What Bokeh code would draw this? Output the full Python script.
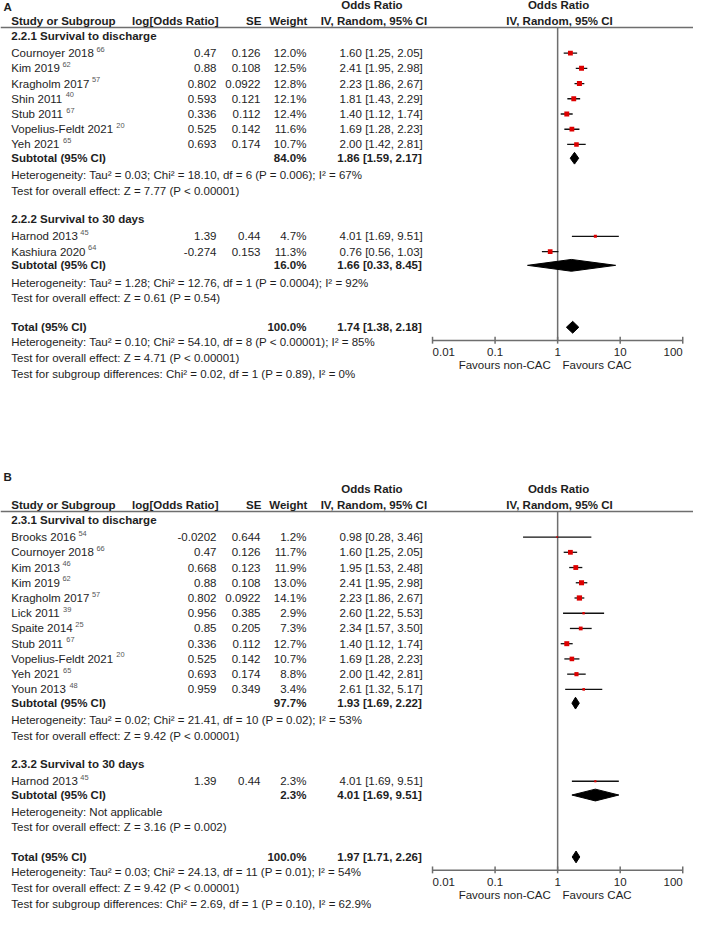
import numpy as np
from bokeh.plotting import figure
from bokeh.models import ColumnDataSource, Range1d
from bokeh.core.properties import value
from bokeh.embed import file_html
from bokeh.resources import INLINE

# ======================= DATA =======================
# ---- Panel A ----
a1_title = "2.2.1 Survival to discharge"
a1_study = ["Cournoyer 2018", "Kim 2019", "Kragholm 2017", "Shin 2011", "Stub 2011", "Vopelius-Feldt 2021", "Yeh 2021"]
a1_ref = ["66", "62", "57", "40", "67", "20", "65"]
a1_logor = [0.47, 0.88, 0.802, 0.593, 0.336, 0.525, 0.693]
a1_se = [0.126, 0.108, 0.0922, 0.121, 0.112, 0.142, 0.174]
a1_weight = [12.0, 12.5, 12.8, 12.1, 12.4, 11.6, 10.7]
a1_or = [1.60, 2.41, 2.23, 1.81, 1.40, 1.69, 2.00]
a1_lo = [1.25, 1.95, 1.86, 1.43, 1.12, 1.28, 1.42]
a1_hi = [2.05, 2.98, 2.67, 2.29, 1.74, 2.23, 2.81]
a1_sub = (84.0, 1.86, 1.59, 2.17)
a1_het = "Heterogeneity: Tau² = 0.03; Chi² = 18.10, df = 6 (P = 0.006); I² = 67%"
a1_test = "Test for overall effect: Z = 7.77 (P < 0.00001)"

a2_title = "2.2.2 Survival to 30 days"
a2_study = ["Harnod 2013", "Kashiura 2020"]
a2_ref = ["45", "64"]
a2_logor = [1.39, -0.274]
a2_se = [0.44, 0.153]
a2_weight = [4.7, 11.3]
a2_or = [4.01, 0.76]
a2_lo = [1.69, 0.56]
a2_hi = [9.51, 1.03]
a2_sub = (16.0, 1.66, 0.33, 8.45)
a2_het = "Heterogeneity: Tau² = 1.28; Chi² = 12.76, df = 1 (P = 0.0004); I² = 92%"
a2_test = "Test for overall effect: Z = 0.61 (P = 0.54)"

a_total = (100.0, 1.74, 1.38, 2.18)
a_total_lines = ["Heterogeneity: Tau² = 0.10; Chi² = 54.10, df = 8 (P < 0.00001); I² = 85%",
                 "Test for overall effect: Z = 4.71 (P < 0.00001)",
                 "Test for subgroup differences: Chi² = 0.02, df = 1 (P = 0.89), I² = 0%"]

# ---- Panel B ----
b1_title = "2.3.1 Survival to discharge"
b1_study = ["Brooks 2016", "Cournoyer 2018", "Kim 2013", "Kim 2019", "Kragholm 2017", "Lick 2011",
            "Spaite 2014", "Stub 2011", "Vopelius-Feldt 2021", "Yeh 2021", "Youn 2013"]
b1_ref = ["54", "66", "46", "62", "57", "39", "25", "67", "20", "65", "48"]
b1_logor = [-0.0202, 0.47, 0.668, 0.88, 0.802, 0.956, 0.85, 0.336, 0.525, 0.693, 0.959]
b1_se = [0.644, 0.126, 0.123, 0.108, 0.0922, 0.385, 0.205, 0.112, 0.142, 0.174, 0.349]
b1_weight = [1.2, 11.7, 11.9, 13.0, 14.1, 2.9, 7.3, 12.7, 10.7, 8.8, 3.4]
b1_or = [0.98, 1.60, 1.95, 2.41, 2.23, 2.60, 2.34, 1.40, 1.69, 2.00, 2.61]
b1_lo = [0.28, 1.25, 1.53, 1.95, 1.86, 1.22, 1.57, 1.12, 1.28, 1.42, 1.32]
b1_hi = [3.46, 2.05, 2.48, 2.98, 2.67, 5.53, 3.50, 1.74, 2.23, 2.81, 5.17]
b1_sub = (97.7, 1.93, 1.69, 2.22)
b1_het = "Heterogeneity: Tau² = 0.02; Chi² = 21.41, df = 10 (P = 0.02); I² = 53%"
b1_test = "Test for overall effect: Z = 9.42 (P < 0.00001)"

b2_title = "2.3.2 Survival to 30 days"
b2_study = ["Harnod 2013"]
b2_ref = ["45"]
b2_logor = [1.39]
b2_se = [0.44]
b2_weight = [2.3]
b2_or = [4.01]
b2_lo = [1.69]
b2_hi = [9.51]
b2_sub = (2.3, 4.01, 1.69, 9.51)
b2_het = "Heterogeneity: Not applicable"
b2_test = "Test for overall effect: Z = 3.16 (P = 0.002)"

b_total = (100.0, 1.97, 1.71, 2.26)
b_total_lines = ["Heterogeneity: Tau² = 0.03; Chi² = 24.13, df = 11 (P = 0.01); I² = 54%",
                 "Test for overall effect: Z = 9.42 (P < 0.00001)",
                 "Test for subgroup differences: Chi² = 2.69, df = 1 (P = 0.10), I² = 62.9%"]

axis_ticks = [0.01, 0.1, 1, 10, 100]
axis_tick_labels = ["0.01", "0.1", "1", "10", "100"]
favours_left = "Favours non-CAC"
favours_right = "Favours CAC"

# ======================= LAYOUT =======================
REF_W, REF_H = 709, 926
W, H = 693, 910
SX = W / REF_W
PX_DEC = 64.0       # reference pixels per decade
PX_ONE = 570.0      # reference pixel of OR = 1


def X(px):
    return 10 ** ((px - PX_ONE) / PX_DEC)


FS = 11.8           # reference font px
FS_SUP = 7.6
TXT = "#1e1e1e"
FONT = "Liberation Sans"

AW = {' ': 278, '-': 333, '0': 556, '1': 556, '2': 556, '3': 556, '4': 556, '5': 556, '6': 556, '7': 556,
      '8': 556, '9': 556, 'A': 667, 'B': 667, 'C': 722, 'D': 722, 'E': 667, 'F': 611, 'G': 778, 'H': 722,
      'I': 278, 'J': 500, 'K': 667, 'L': 556, 'M': 833, 'N': 722, 'O': 778, 'P': 667, 'R': 722, 'S': 667,
      'T': 611, 'U': 722, 'V': 667, 'W': 944, 'Y': 667, 'a': 556, 'b': 556, 'c': 500, 'd': 556, 'e': 556,
      'f': 278, 'g': 556, 'h': 556, 'i': 222, 'j': 222, 'k': 500, 'l': 222, 'm': 833, 'n': 556, 'o': 556,
      'p': 556, 'q': 556, 'r': 333, 's': 500, 't': 278, 'u': 556, 'v': 500, 'w': 722, 'x': 500, 'y': 500,
      'z': 500}


def text_w(s):
    return sum(AW.get(c, 556) for c in s) / 1000.0 * FS


TEXTS = {}


def add(kind, align, px, y, s):
    d = TEXTS.setdefault((kind, align), dict(x=[], y=[], t=[]))
    d["x"].append(X(px))
    d["y"].append(y)
    d["t"].append(s)


CI_SEG = dict(x0=[], x1=[], y=[])
SQ = dict(x=[], y=[], size=[])
DIA = dict(xs=[], ys=[])
GRAY_SEG = dict(x0=[], x1=[], y0=[], y1=[])


def gseg(x0, y0, x1, y1):
    GRAY_SEG["x0"].append(x0); GRAY_SEG["x1"].append(x1)
    GRAY_SEG["y0"].append(y0); GRAY_SEG["y1"].append(y1)


def diamond(y, est, lo, hi, half=6.0):
    DIA["xs"].append([lo, est, hi, est])
    DIA["ys"].append([y, y - half, y, y + half])


def ci_text(o, lo, hi):
    return f"{o:.2f} [{lo:.2f}, {hi:.2f}]"


PITCH = 15.5


def panel(L, label, label_y, groups, total, total_lines):
    add("bold", "left", 3, label_y, label)
    add("bold", "left", 11, L - 6.5, "Study or Subgroup")
    add("bold", "right", 223, L - 6.5, "log[Odds Ratio]")
    add("bold", "right", 267, L - 6.5, "SE")
    add("bold", "right", 314, L - 6.5, "Weight")
    add("bold", "center", 380, L - 22.5, "Odds Ratio")
    add("bold", "center", 382, L - 6.5, "IV, Random, 95% CI")
    add("bold", "center", 571, L - 22.5, "Odds Ratio")
    add("bold", "center", 572, L - 6.5, "IV, Random, 95% CI")
    gseg(X(0), L, X(709), L)

    y = L + 8.5
    for g in groups:
        title, study, ref, logor, se, wt, o, lo, hi, sub, het, test = g
        add("bold", "left", 11, y, title)
        y += 17.5
        for i in range(len(study)):
            add("normal", "left", 11, y, study[i])
            add("sup", "left", 11 + text_w(study[i]) + 2.5, y - 4, ref[i])
            add("normal", "right", 221, y, str(logor[i]))
            add("normal", "right", 266, y, str(se[i]))
            add("normal", "right", 313, y, f"{wt[i]:.1f}%")
            add("normal", "right", 432, y, ci_text(o[i], lo[i], hi[i]))
            CI_SEG["x0"].append(lo[i]); CI_SEG["x1"].append(hi[i]); CI_SEG["y"].append(y)
            SQ["x"].append(o[i]); SQ["y"].append(y); SQ["size"].append(1.4 * np.sqrt(wt[i]))
            y += PITCH
        y += 14 - PITCH
        add("bold", "left", 11, y, "Subtotal (95% CI)")
        add("bold", "right", 313, y, f"{sub[0]:.1f}%")
        add("bold", "right", 431, y, ci_text(*sub[1:]))
        diamond(y, sub[1], sub[2], sub[3])
        y += 17.5
        add("normal", "left", 11, y, het)
        y += 15.5
        add("normal", "left", 11, y, test)
        y += 29
    y += 1
    add("bold", "left", 11, y, "Total (95% CI)")
    add("bold", "right", 313, y, f"{total[0]:.1f}%")
    add("bold", "right", 431, y, ci_text(*total[1:]))
    diamond(y, total[1], total[2], total[3])
    ax_y = y + 13.5
    yy = y
    for k, s in enumerate(total_lines):
        yy += 15.5 if k == 0 else (16 if k == 1 else 16.5)
        add("normal", "left", 11, yy, s)

    # vertical line of no effect
    gseg(1.0, L, 1.0, ax_y)
    # axis line and ticks
    gseg(axis_ticks[0], ax_y, axis_ticks[-1], ax_y)
    for k, t in enumerate(axis_ticks):
        gseg(t, ax_y - 3.8, t, ax_y + 3.2)
        al = "left" if k == 0 else ("right" if k == len(axis_ticks) - 1 else "center")
        d = TEXTS.setdefault(("normal", al), dict(x=[], y=[], t=[]))
        d["x"].append(t); d["y"].append(ax_y + 11.5); d["t"].append(axis_tick_labels[k])
    add("normal", "right", 563, ax_y + 25, favours_left)
    add("normal", "left", 575, ax_y + 25, favours_right)


panel(27.5, "A", 7, [
    (a1_title, a1_study, a1_ref, a1_logor, a1_se, a1_weight, a1_or, a1_lo, a1_hi, a1_sub, a1_het, a1_test),
    (a2_title, a2_study, a2_ref, a2_logor, a2_se, a2_weight, a2_or, a2_lo, a2_hi, a2_sub, a2_het, a2_test),
], a_total, a_total_lines)

panel(520, "B", 485, [
    (b1_title, b1_study, b1_ref, b1_logor, b1_se, b1_weight, b1_or, b1_lo, b1_hi, b1_sub, b1_het, b1_test),
    (b2_title, b2_study, b2_ref, b2_logor, b2_se, b2_weight, b2_or, b2_lo, b2_hi, b2_sub, b2_het, b2_test),
], b_total, b_total_lines)

# ======================= FIGURE =======================
p = figure(width=W, height=H, x_axis_type="log",
           x_range=Range1d(X(0), X(REF_W)), y_range=Range1d(REF_H, 0),
           x_axis_location=None, y_axis_location=None,
           toolbar_location=None, output_backend="svg", min_border=0,
           outline_line_color=None, background_fill_color="white", border_fill_color="white")
p.grid.visible = False

p.segment(x0="x0", y0="y0", x1="x1", y1="y1", source=ColumnDataSource(GRAY_SEG),
          line_color="#6e6e6e", line_width=1.5)
p.segment(x0="x0", y0="y", x1="x1", y1="y", source=ColumnDataSource(CI_SEG),
          line_color="#111111", line_width=1.3)
p.scatter(x="x", y="y", size="size", marker="square", source=ColumnDataSource(SQ),
          fill_color="#dd0000", line_color=None)
p.patches(xs="xs", ys="ys", source=ColumnDataSource(DIA), fill_color="black", line_color="black")

for (kind, align), d in TEXTS.items():
    size = FS_SUP if kind == "sup" else FS
    p.text(x="x", y="y", text="t", source=ColumnDataSource(d),
           text_font=value(FONT), text_font_size=f"{size * SX:.2f}px",
           text_font_style="bold" if kind == "bold" else "normal",
           text_color="#555555" if kind == "sup" else TXT,
           text_align=align, text_baseline="middle")

open("out.html", "w").write(file_html(p, INLINE))
